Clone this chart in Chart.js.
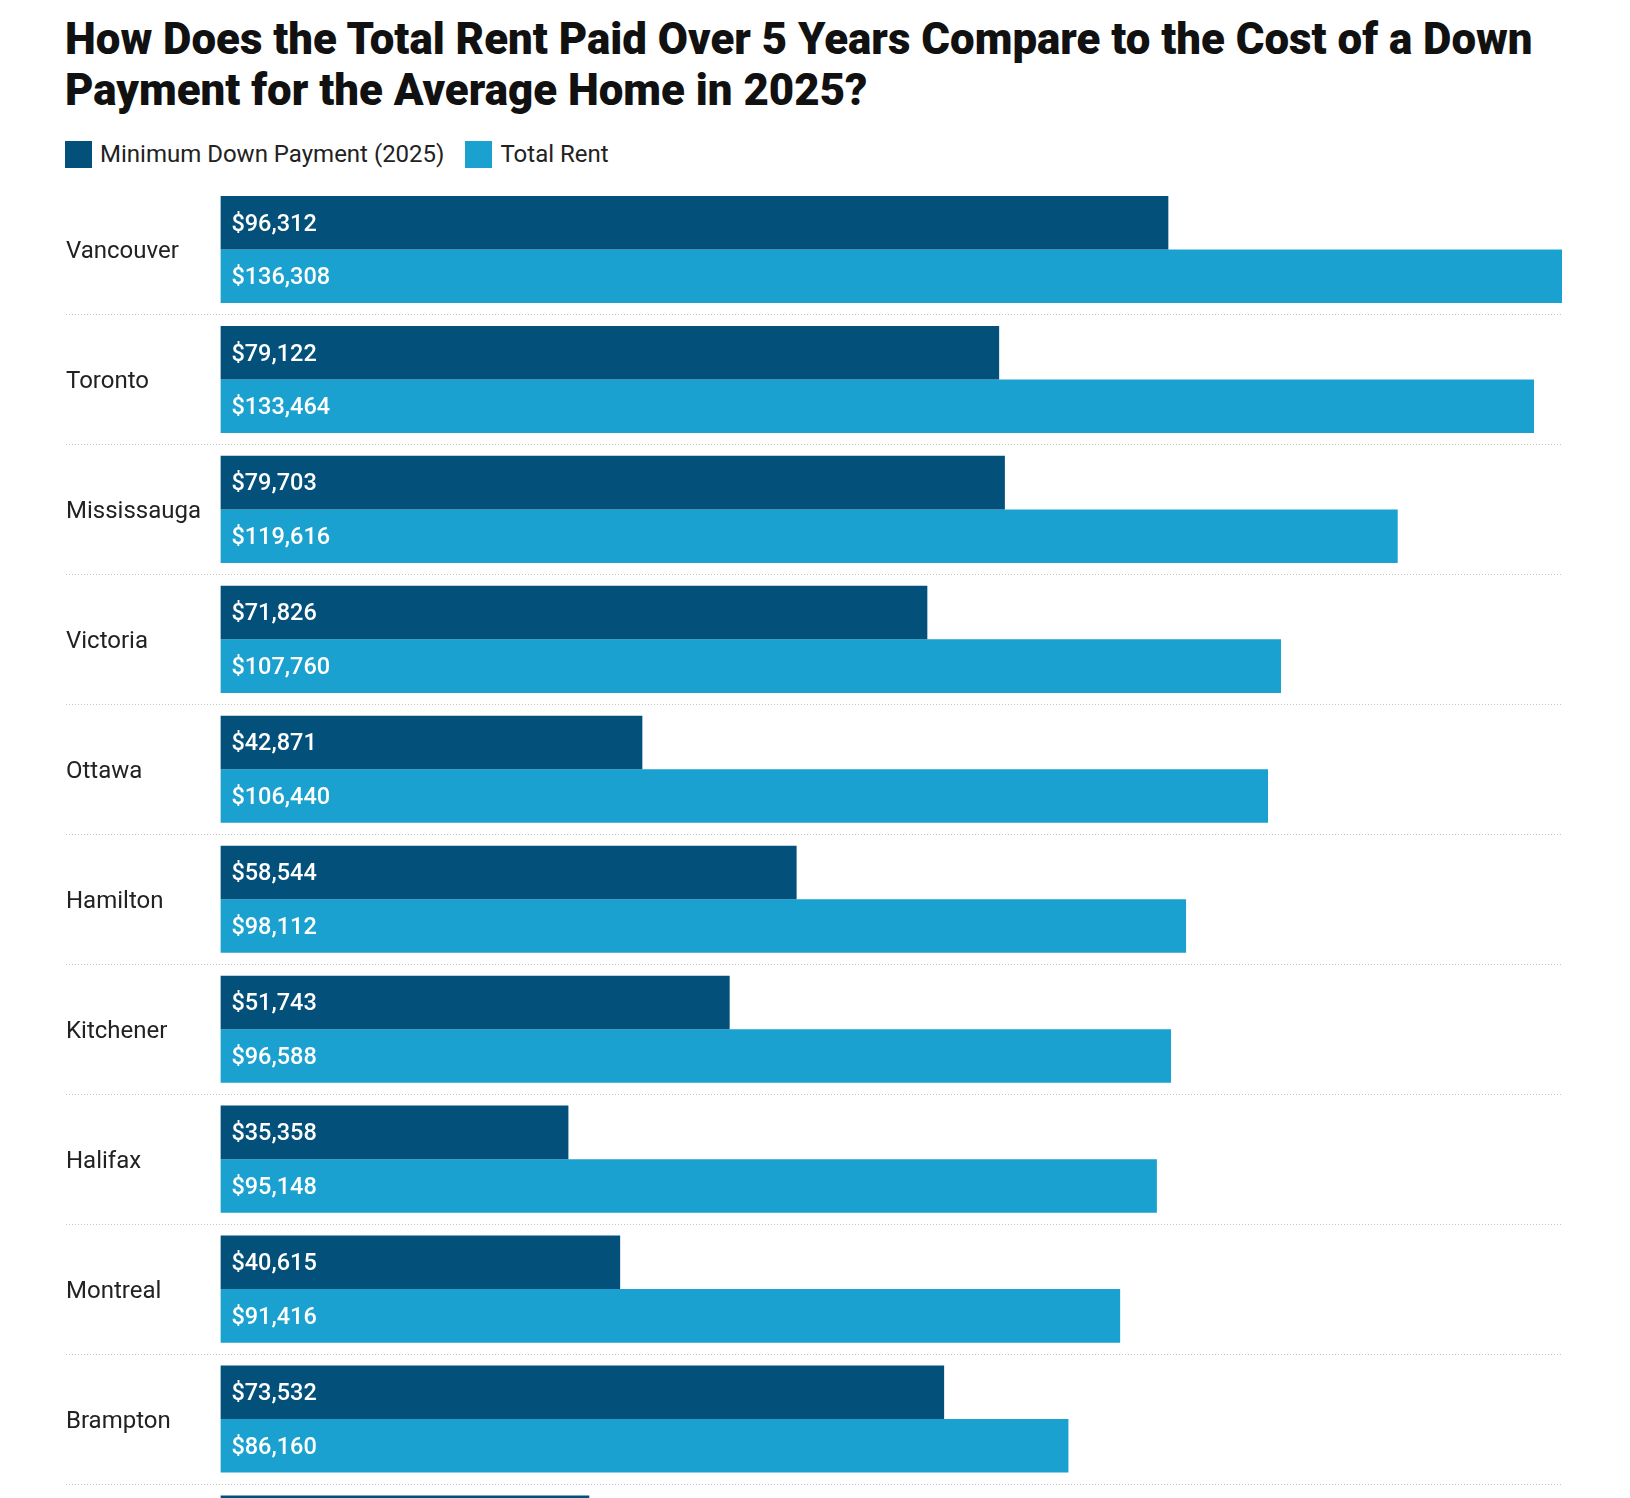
<!DOCTYPE html>
<html>
<head>
<meta charset="utf-8">
<script src="https://cdn.jsdelivr.net/npm/chart.js@4.4.1/dist/chart.umd.min.js"></script>
<style>
html,body{margin:0;padding:0;background:#fff;width:1630px;height:1498px;overflow:hidden}
body{position:relative;font-family:Roboto,"Noto Sans",sans-serif}
#title{position:absolute;left:65px;top:14px;font-size:43.8px;line-height:51px;font-weight:900;color:#111}
#legend{position:absolute;left:65px;top:140px;display:flex;align-items:center;font-size:24px;color:#222}
.item{display:flex;align-items:center;margin-right:21px}
.sw{width:27px;height:27px;margin-right:8px}
#wrap{position:absolute;left:0;top:170px;width:1630px;height:1450px}
</style>
</head>
<body>
<div id="title">How Does the Total Rent Paid Over 5 Years Compare to the Cost of a Down<br>Payment for the Average Home in 2025?</div>
<div id="legend"></div>
<div id="wrap"><canvas id="chart"></canvas></div>
<script>

const cities=["Vancouver","Toronto","Mississauga","Victoria","Ottawa","Hamilton","Kitchener","Halifax","Montreal","Brampton","Calgary"]

const downPayment=[96312,79122,79703,71826,42871,58544,51743,35358,40615,73532,37480]

const totalRent=[136308,133464,119616,107760,106440,98112,96588,95148,91416,86160,84500]

const seriesNames=["Minimum Down Payment (2025)","Total Rent"]
const seriesColors=["#03507a","#1aa1cf"]


// legend
let html=""
seriesNames.forEach((n,i)=>{
html+=`<div class="item"><div class="sw" style="background:${seriesColors[i]}"></div>${n}</div>`
})
document.getElementById("legend").innerHTML=html


const barLabels={
id:"barLabels",
afterDatasetsDraw(chart){
const ctx=chart.ctx
ctx.save()
ctx.fillStyle="#fff"
ctx.font="500 23.5px Roboto"
ctx.textBaseline="middle"
ctx.textAlign="left"
chart.data.datasets.forEach((ds,di)=>{
chart.getDatasetMeta(di).data.forEach((bar,i)=>{
ctx.fillText("$"+ds.data[i].toLocaleString("en-US"),bar.base+11,bar.y+2)
})
})
ctx.restore()
}
}

const separators={
id:"separators",
beforeDatasetsDraw(chart){
const ctx=chart.ctx
const y=chart.scales.y
const area=chart.chartArea
const step=(area.bottom-area.top)/cities.length
ctx.save()
ctx.strokeStyle="#c4c4c4"
ctx.lineWidth=1
ctx.setLineDash([1,2])
cities.forEach((c,i)=>{
const py=Math.round(y.getPixelForValue(i)+step/2)+0.5
ctx.beginPath()
ctx.moveTo(66,py)
ctx.lineTo(area.right,py)
ctx.stroke()
})
ctx.restore()
}
}

new Chart(document.getElementById("chart"),{
type:"bar",
data:{
labels:cities,
datasets:[
{label:seriesNames[0],data:downPayment,backgroundColor:seriesColors[0]},
{label:seriesNames[1],data:totalRent,backgroundColor:seriesColors[1]}
]
},
options:{
indexAxis:"y",
responsive:true,
maintainAspectRatio:false,
animation:false,
categoryPercentage:0.824,
barPercentage:1,
layout:{padding:{left:66,right:68,top:14.5,bottom:6}},
plugins:{legend:{display:false},tooltip:{enabled:false}},
scales:{
x:{display:false,min:0,max:136308},
y:{
grid:{display:false},
border:{display:false},
afterFit(s){s.width=154.4;s.paddingTop=0;s.paddingBottom=0},
ticks:{crossAlign:"far",padding:0,labelOffset:3,color:"#222",font:{family:"Roboto",size:24}}
}
}
},
plugins:[separators,barLabels]
})

</script>
</body>
</html>
